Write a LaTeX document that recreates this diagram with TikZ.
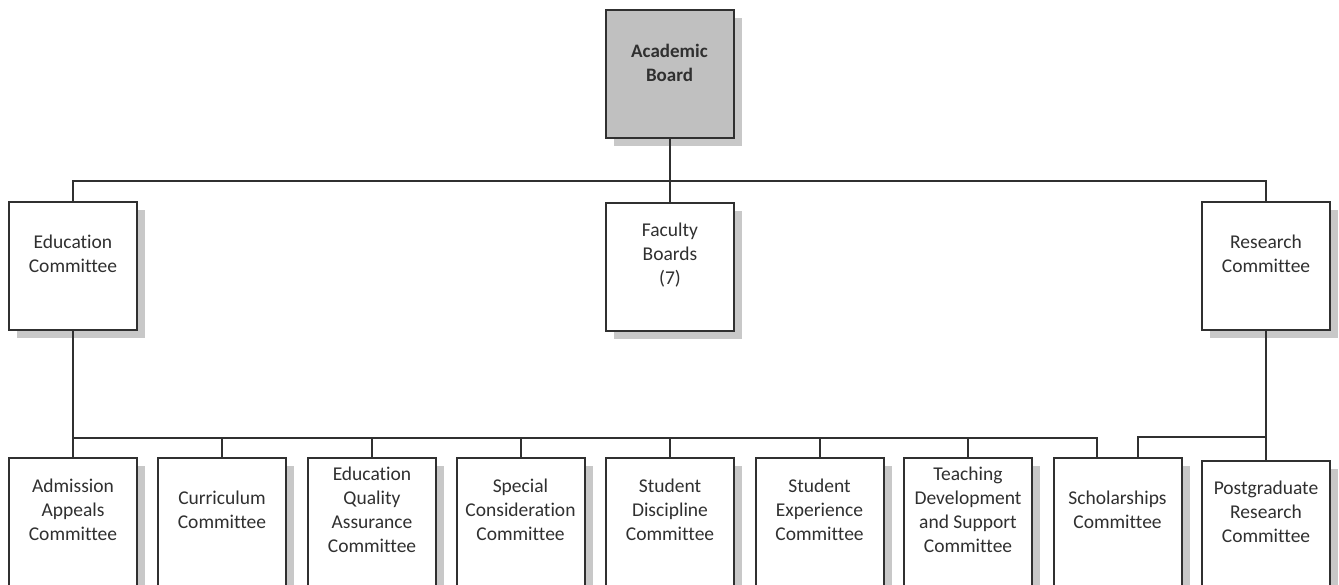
\documentclass[tikz,border=0pt]{standalone}
\usepackage{fontspec}
\setmainfont[Ligatures=CommonOff]{Carlito}
\usetikzlibrary{shadows}
\definecolor{linec}{HTML}{303030}
\definecolor{shadc}{HTML}{C8C8C8}
\definecolor{boardc}{HTML}{C0C0C0}
\definecolor{txtc}{HTML}{303030}
\begin{document}
\begin{tikzpicture}[x=1pt,y=-1pt,
  orgbox/.style={draw=linec, line width=2pt, fill=white, minimum width=128pt, minimum height=128pt, inner sep=0pt,
    drop shadow={shadow xshift=8pt, shadow yshift=-8pt, fill=shadc, opacity=1}},
  lbl/.style={align=center, font=\fontsize{19.5}{24}\selectfont, text=txtc, inner sep=0pt},
  link/.style={draw=linec, line width=2pt, line join=miter}
]
\path[use as bounding box] (0,0) rectangle (1339,585);
\clip (0,0) rectangle (1339,585);
\fill[white] (0,0) rectangle (1339,585);

% top level
\node[orgbox, fill=boardc] (ab) at (669.5,74.5) {};
\node[lbl, font=\fontsize{19}{24}\selectfont\bfseries] (abt) at ([yshift=12pt]ab.center) {Academic\\Board};

% second level
\node[orgbox] (edu) at (73,266) {};
\node[lbl] (edut) at ([yshift=12pt]edu.center) {Education\\Committee};
\node[orgbox] (fac) at (670,267) {};
\node[lbl] (fact) at ([yshift=12pt]fac.center) {Faculty\\Boards\\(7)};
\node[orgbox] (res) at (1266,266) {};
\node[lbl] (rest) at ([yshift=12pt]res.center) {Research\\Committee};

% third level
\node[orgbox] (c1) at (73,522) {};
\node[lbl] (c1t) at ([yshift=12pt]c1.center) {Admission\\Appeals\\Committee};
\node[orgbox] (c2) at (222,522) {};
\node[lbl] (c2t) at ([yshift=12pt]c2.center) {Curriculum\\Committee};
\node[orgbox] (c3) at (372,522) {};
\node[lbl] (c3t) at ([yshift=12pt]c3.center) {Education\\Quality\\Assurance\\Committee};
\node[orgbox] (c4) at (520.5,522) {};
\node[lbl] (c4t) at ([yshift=12pt]c4.center) {Special\\Consideration\\Committee};
\node[orgbox] (c5) at (670,522) {};
\node[lbl] (c5t) at ([yshift=12pt]c5.center) {Student\\Discipline\\Committee};
\node[orgbox] (c6) at (819.5,522) {};
\node[lbl] (c6t) at ([yshift=12pt]c6.center) {Student\\Experience\\Committee};
\node[orgbox] (c7) at (968,522) {};
\node[lbl] (c7t) at ([yshift=12pt]c7.center) {Teaching\\Development\\and Support\\Committee};
\node[orgbox] (sch) at (1117.5,522) {};
\node[lbl] (scht) at ([yshift=12pt]sch.center) {Scholarships\\Committee};
\node[orgbox] (pg) at (1266,525) {};
\node[lbl] (pgt) at ([yshift=13pt]pg.center) {Postgraduate\\Research\\Committee};

% connectors
\coordinate (bus1) at (0,181);
\coordinate (bus2) at (0,438);
\coordinate (bus3) at (0,437);
\coordinate (schL) at ([xshift=-21pt]sch.north);
\coordinate (schR) at ([xshift=20pt]sch.north);

\draw[link] (ab.south) -- (ab.south |- bus1);
\draw[link] (edu.north) -- (edu.north |- bus1) -- (res.north |- bus1) -- (res.north);
\draw[link] (fac.north) -- (fac.north |- bus1);

\draw[link] (edu.south) -- (edu.south |- bus2) -- (schL |- bus2) -- (schL);
\foreach \n in {c1,c2,c3,c4,c5,c6,c7}
  \draw[link] (\n.north) -- (\n.north |- bus2);

\draw[link] (res.south) -- (pg.north);
\draw[link] (res.south |- bus3) -- (schR |- bus3) -- (schR);
\end{tikzpicture}
\end{document}
